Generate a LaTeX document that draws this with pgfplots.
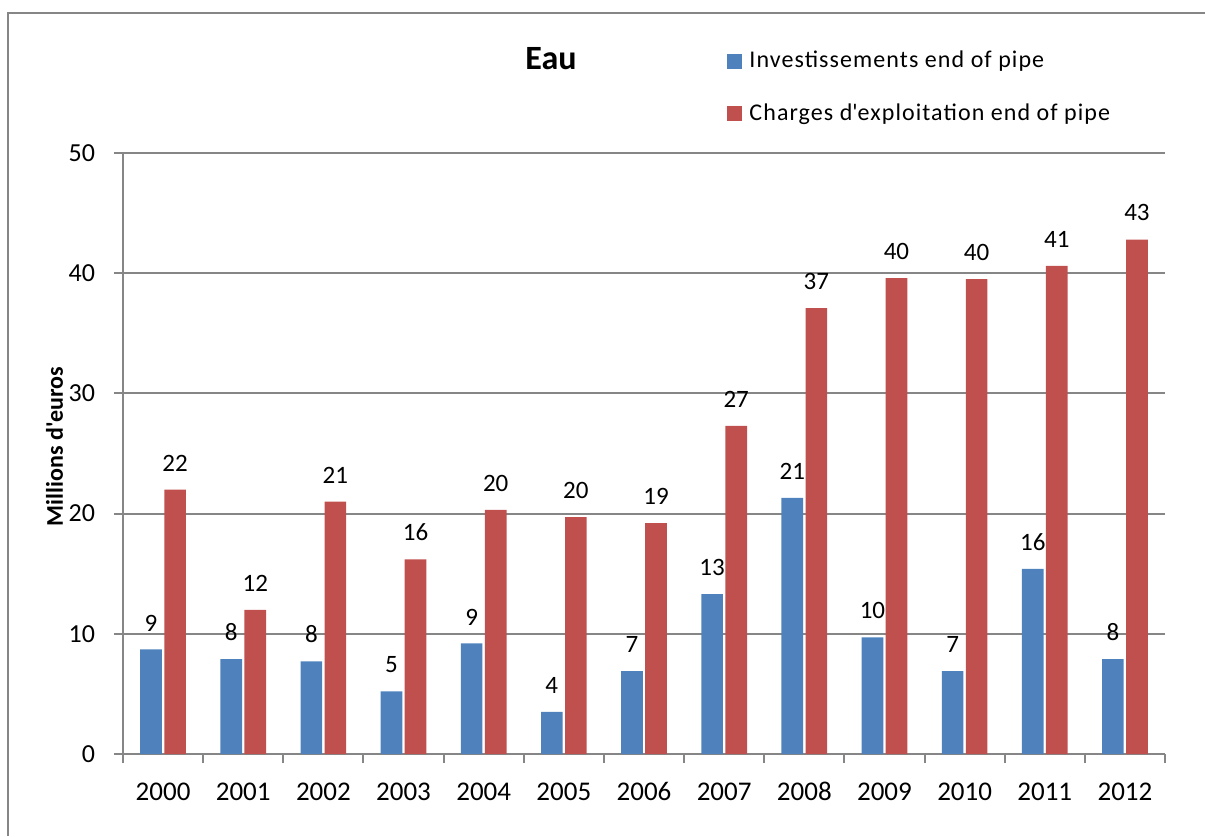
\documentclass[border=0pt]{standalone}
\usepackage{pgfplots}
\pgfplotsset{compat=1.18}
\usepackage{fontspec}
\setmainfont{Carlito}
\newfontfamily\legfont{Carlito}[LetterSpace=4.5]
\definecolor{xblue}{HTML}{4F81BD}
\definecolor{xred}{HTML}{C0504D}
\definecolor{xgrid}{HTML}{868686}
\begin{document}
\begin{tikzpicture}
\begin{axis}[
  name=ax,
  scale only axis,
  width=521pt, height=300.5pt,
  xmin=-0.5, xmax=12.5,
  ymin=0, ymax=50,
  ytick={0,10,...,50},
  xtick={0,1,...,12},
  xticklabels={2000,2001,2002,2003,2004,2005,2006,2007,2008,2009,2010,2011,2012},
  minor xtick={-0.5,0.5,...,12.5},
  major x tick style={draw=none},
  minor tick length=4.5pt,
  major tick length=4.5pt,
  tick align=outside,
  axis x line*=bottom,
  axis y line*=left,
  axis line style={xgrid, line width=1pt},
  tick style={xgrid, line width=1pt},
  ymajorgrids,
  grid style={xgrid, line width=1pt},
  /pgf/number format/assume math mode=true,
  xticklabel style={font=\fontsize{13.5}{16}\selectfont, text height=9pt, text depth=0pt, yshift=-6pt},
  yticklabel style={font=\fontsize{13}{16}\selectfont, xshift=-6pt},
  title={Eau},
  title style={font=\fontsize{17}{20}\selectfont\bfseries, at={(axis description cs:0.4107,1.1364)}, anchor=center},
  ylabel={Millions d\textquotesingle euros},
  ylabel style={font=\fontsize{12}{14}\selectfont\bfseries, at={(axis description cs:-0.0657,0.5117)}, anchor=center},
  ybar, bar width=0.27,
  legend style={at={(axis description cs:0.5797,1.175)}, anchor=north west, draw=none, fill=none,
    font=\fontsize{12}{14}\selectfont\legfont, row sep=13.5pt, inner sep=0pt,
    nodes={inner sep=1.5pt}, /tikz/every odd column/.style={column sep=2pt}},
  legend cell align=left,
  legend image code/.code={\fill[#1] (0pt,-3.75pt) rectangle (7.5pt,3.75pt);},
  nodes near coords={\pgfplotspointmeta},
  point meta=explicit symbolic,
  every node near coord/.append style={font=\fontsize{12.5}{15}\selectfont, color=black, inner sep=0pt, anchor=south, yshift=9pt},
  clip=false,
]
\addplot[fill=xblue, draw=none, bar shift=-0.15] coordinates {
 (0,8.7) [9] (1,7.9) [8] (2,7.7) [8] (3,5.2) [5] (4,9.2) [9] (5,3.5) [4] (6,6.9) [7]
 (7,13.3) [13] (8,21.3) [21] (9,9.7) [10] (10,6.9) [7] (11,15.4) [16] (12,7.9) [8]
};
\addlegendentry{Investissements end of pipe}
\addplot[fill=xred, draw=none, bar shift=0.15] coordinates {
 (0,22.0) [22] (1,12.0) [12] (2,21.0) [21] (3,16.2) [16] (4,20.3) [20] (5,19.7) [20] (6,19.2) [19]
 (7,27.3) [27] (8,37.1) [37] (9,39.6) [40] (10,39.5) [40] (11,40.6) [41] (12,42.8) [43]
};
\addlegendentry{Charges d\textquotesingle exploitation end of pipe}
\end{axis}
\draw[xgrid, line width=1pt] ([shift={(-57.5pt,-41pt)}]ax.south west) -- ([shift={(-57.5pt,370.5pt)}]ax.south west) -- ([shift={(541pt,370.5pt)}]ax.south west);
\pgfresetboundingbox
\path[use as bounding box] ([shift={(-61.5pt,-41pt)}]ax.south west) rectangle ([shift={(541pt,377pt)}]ax.south west);
\end{tikzpicture}
\end{document}
